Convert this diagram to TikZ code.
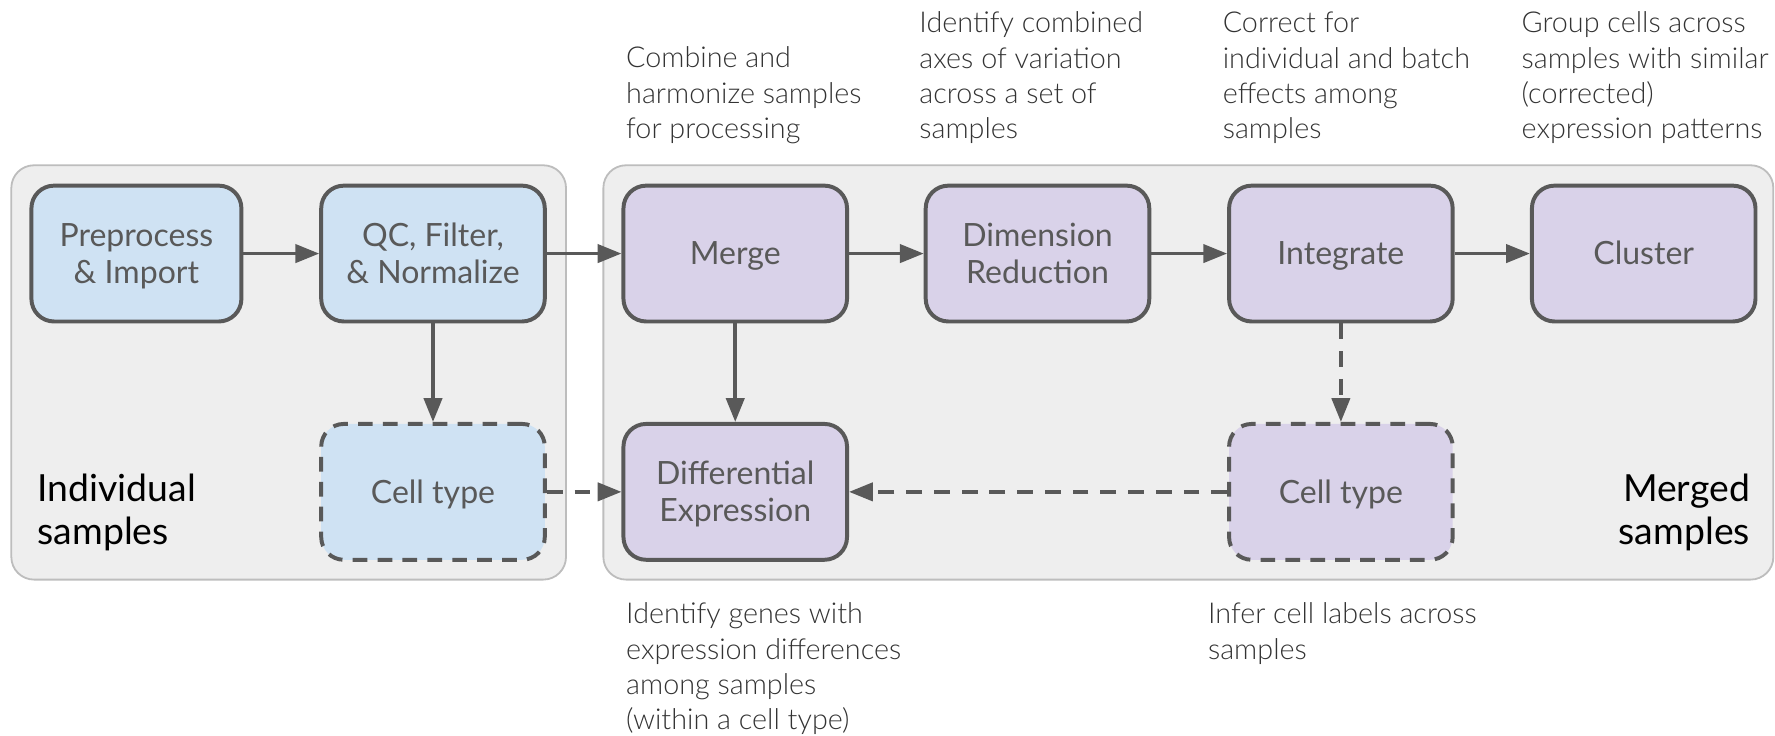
\documentclass[tikz,border=0pt]{standalone}
\usepackage{fontspec}
\setmainfont{Lato}
\newfontfamily\lightfont{Lato Light}
\usetikzlibrary{arrows.meta}
\definecolor{grpfill}{HTML}{EEEEEE}
\definecolor{grpline}{HTML}{BDBDBD}
\definecolor{boxline}{HTML}{595959}
\definecolor{boxtext}{HTML}{595959}
\definecolor{bluefill}{HTML}{CFE2F3}
\definecolor{purplefill}{HTML}{D9D2E9}
\definecolor{notetext}{HTML}{333333}
\begin{document}
\begin{tikzpicture}[x=1pt,y=-1pt,
 group/.style={draw=grpline, fill=grpfill, line width=1.6pt, rounded corners=20pt},
 stepbox/.style={draw=boxline, line width=3.5pt, rounded corners=20pt, minimum width=197.5pt, minimum height=120pt, inner sep=0pt, align=center, font=\fontsize{28.3}{33}\selectfont, text=boxtext, text height=20pt, text depth=0pt},
 twoline/.style={text height=53pt, text depth=0pt},
 bluebox/.style={stepbox, fill=bluefill},
 purplebox/.style={stepbox, fill=purplefill},
 dashedbox/.style={dash pattern=on 13pt off 9pt},
 note/.style={anchor=base west, align=left, inner sep=0pt, font=\lightfont\fontsize{25.4}{31.2}\selectfont, text=notetext},
 side/.style={anchor=base west, align=left, inner sep=0pt, font=\fontsize{33}{38}\selectfont, text=black},
 flow/.style={draw=boxline, line width=3.2pt, -{Triangle[length=21pt,width=16pt]}},
 dflow/.style={flow, dash pattern=on 14pt off 10.5pt},
]
\useasboundingbox (0,0) rectangle (1568,649.3);
\draw[group] (10,146) rectangle (500,512);
\draw[group] (533,146) rectangle (1566.5,512);

\node[bluebox, minimum width=185.5pt, twoline] (prep) at (120.5,224) {Preprocess\\\& Import};
\node[bluebox, twoline] (qc) at (382.5,224) {QC, Filter,\\\& Normalize};
\node[purplebox] (merge) at (649.5,224) {Merge};
\node[purplebox, twoline] (dim) at (916.5,224) {Dimension\\Reduction};
\node[purplebox] (integ) at (1184.5,224) {Integrate};
\node[purplebox] (clust) at (1452,224) {Cluster};
\node[bluebox, dashedbox] (ct1) at (382.5,434.5) {Cell type};
\node[purplebox, twoline] (de) at (649.5,434.5) {Differential\\Expression};
\node[purplebox, dashedbox] (ct2) at (1184.5,434.5) {Cell type};

\draw[flow] (prep) -- (qc);
\draw[flow] (qc) -- (merge);
\draw[flow] (merge) -- (dim);
\draw[flow] (dim) -- (integ);
\draw[flow] (integ) -- (clust);
\draw[flow] (qc) -- (ct1);
\draw[flow] (merge) -- (de);
\draw[dflow] (integ) -- (ct2);
\draw[dflow] (ct1) -- (de);
\draw[dflow] (ct2) -- (de);

\node[note] (n1) at (553,122.4) {Combine and\\harmonize samples\\for processing};
\node[note] (n2) at (812,122.6) {Identify combined\\axes of variation\\across a set of\\samples};
\node[note] (n3) at (1080,122.6) {Correct for\\individual and batch\\effects among\\samples};
\node[note] (n4) at (1344,122.6) {Group cells across\\samples with similar\\(corrected)\\expression patterns};
\node[note] (n5) at (553,644.6) {Identify genes with\\expression differences\\among samples\\(within a cell type)};
\node[note] (n6) at (1067,582.2) {Infer cell labels across\\samples};
\node[side] (ind) at (33,481) {Individual\\samples};
\node[side, anchor=base east, align=right] (mrg) at (1546,481) {Merged\\samples};
\end{tikzpicture}
\end{document}
